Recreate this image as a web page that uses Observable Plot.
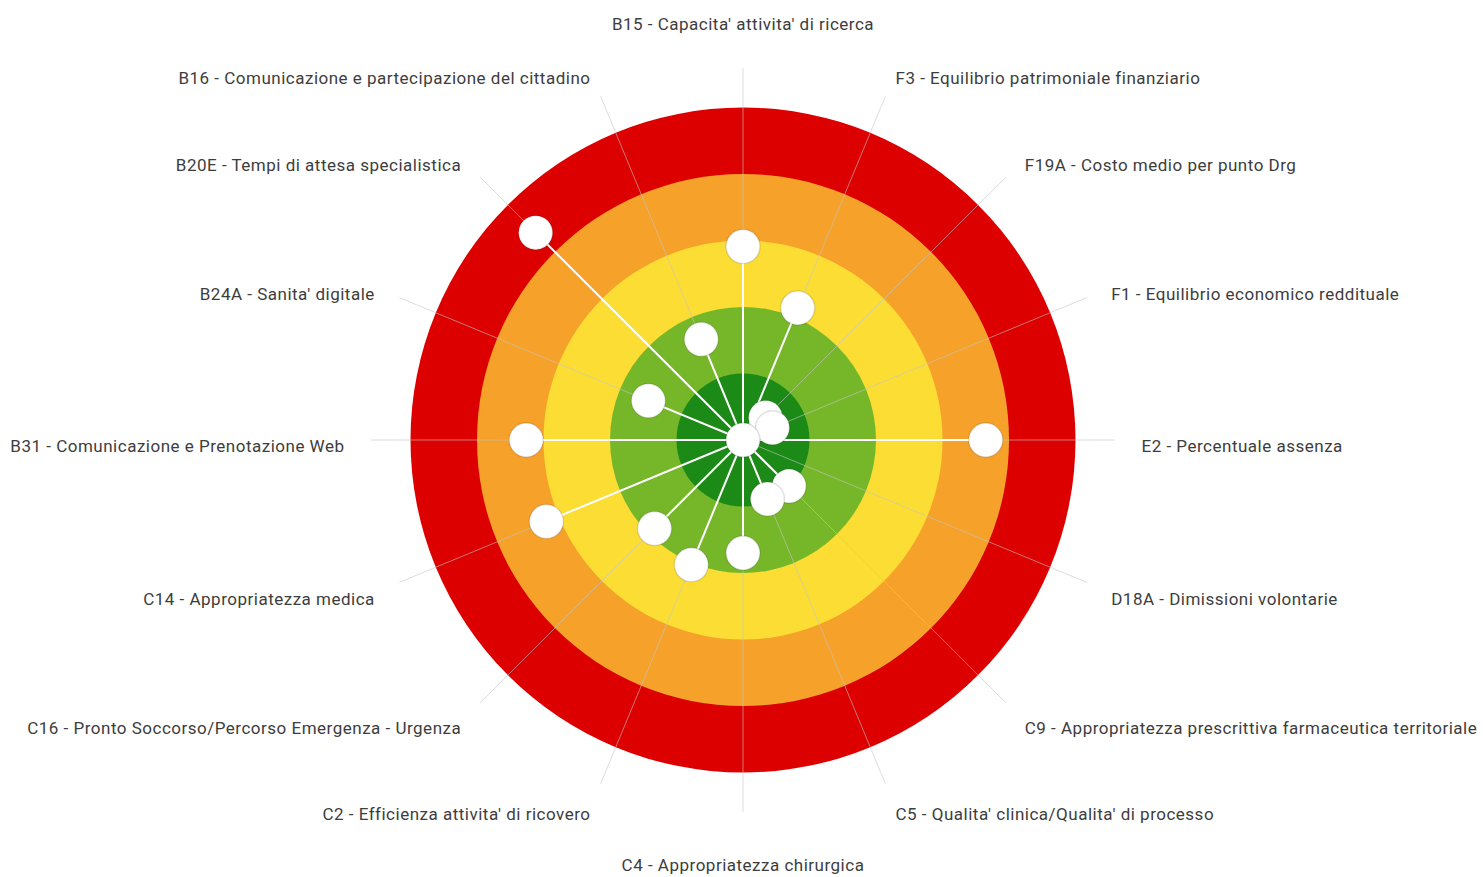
<!DOCTYPE html>
<html>
<head>
<meta charset="utf-8">
<script src="https://cdn.jsdelivr.net/npm/d3@7"></script>
<script src="https://cdn.jsdelivr.net/npm/@observablehq/plot@0.6"></script>
<style>
  html, body { margin: 0; padding: 0; background: #ffffff; }
  #chart { width: 1483px; height: 877px; }
  #chart svg { display: block; }
</style>
</head>
<body>
<div id="chart"></div>
<script>
// Indicators, clockwise from the top
const indicators = [
  "B15 - Capacita' attivita' di ricerca",
  "F3 - Equilibrio patrimoniale finanziario",
  "F19A - Costo medio per punto Drg",
  "F1 - Equilibrio economico reddituale",
  "E2 - Percentuale assenza",
  "D18A - Dimissioni volontarie",
  "C9 - Appropriatezza prescrittiva farmaceutica territoriale",
  "C5 - Qualita' clinica/Qualita' di processo",
  "C4 - Appropriatezza chirurgica",
  "C2 - Efficienza attivita' di ricovero",
  "C16 - Pronto Soccorso/Percorso Emergenza - Urgenza",
  "C14 - Appropriatezza medica",
  "B31 - Comunicazione e Prenotazione Web",
  "B24A - Sanita' digitale",
  "B20E - Tempi di attesa specialistica",
  "B16 - Comunicazione e partecipazione del cittadino"
];
// Scores 0 (outer edge) .. 5 (centre)
const scores = [2.09, 2.85, 4.52, 4.52, 1.35, 5.00, 4.02, 4.04, 3.30, 2.97, 3.12, 1.80, 1.74, 3.46, 0.59, 3.36];

// Target bands (outer radius in score units) and colours
const bandLimits = [5, 4, 3, 2, 1];
const bandColors = ["#dc0000", "#f5a12a", "#fbdd34", "#76b72a", "#1c8a17"];

// ---- layout ----
const W = 1483, H = 877;
const cx = 742.5, cy = 439.5;   // pixel centre of the target
const u = 66.5;                 // pixels per score unit
const spokeLen = 372 / u;

const n = indicators.length;
const ang = i => i * 2 * Math.PI / n;  // clockwise from top
const data = indicators.map((name, i) => {
  const a = ang(i);
  const rr = 5 - scores[i];
  const s = Math.sin(a), c = Math.cos(a);
  const vertical = Math.abs(s) < 1e-6;
  const lrx = 398.5 / u;
  const lry = (vertical ? (c > 0 ? 419 : 415) : 395) / u;
  return {
    name, score: scores[i],
    px: rr * s, py: rr * c,
    sx: spokeLen * s, sy: spokeLen * c,
    lx: lrx * s, ly: lry * c - (7 - 3.3 * c) / u,
    side: vertical ? "middle" : (s > 0 ? "start" : "end")
  };
});
const bands = bandLimits.map((r, i) => ({r, color: bandColors[i]}));

const textOpts = {x: "lx", y: "ly", text: "name", fontSize: 17, fill: "#3d3d3d"};

const chart = Plot.plot({
  width: W, height: H,
  margin: 0,
  style: {fontFamily: "Roboto, 'DejaVu Sans', sans-serif", background: "#fff", letterSpacing: "0.5px"},
  x: {domain: [-cx / u, (W - cx) / u], range: [0, W], axis: null},
  y: {domain: [-(H - cy) / u, cy / u], range: [H, 0], axis: null},
  r: {type: "linear", domain: [0, 5], range: [0, 5 * u]},
  marks: [
    Plot.dot(bands, {x: () => 0, y: () => 0, r: "r", fill: "color", stroke: null, sort: null}),
    Plot.link(data, {x1: () => 0, y1: () => 0, x2: "sx", y2: "sy", stroke: "#c4c4c4", strokeOpacity: 0.6, strokeWidth: 1}),
    Plot.link(data, {x1: () => 0, y1: () => 0, x2: "px", y2: "py", stroke: "#ffffff", strokeWidth: 2}),
    Plot.dot(data, {x: "px", y: "py", r: 17, fill: "#ffffff", stroke: "#000", strokeOpacity: 0.12, strokeWidth: 1.5}),
    Plot.text(data.filter(d => d.side === "start"), {...textOpts, textAnchor: "start"}),
    Plot.text(data.filter(d => d.side === "end"), {...textOpts, textAnchor: "end"}),
    Plot.text(data.filter(d => d.side === "middle"), {...textOpts, textAnchor: "middle"})
  ]
});
document.getElementById("chart").appendChild(chart);
</script>
</body>
</html>
